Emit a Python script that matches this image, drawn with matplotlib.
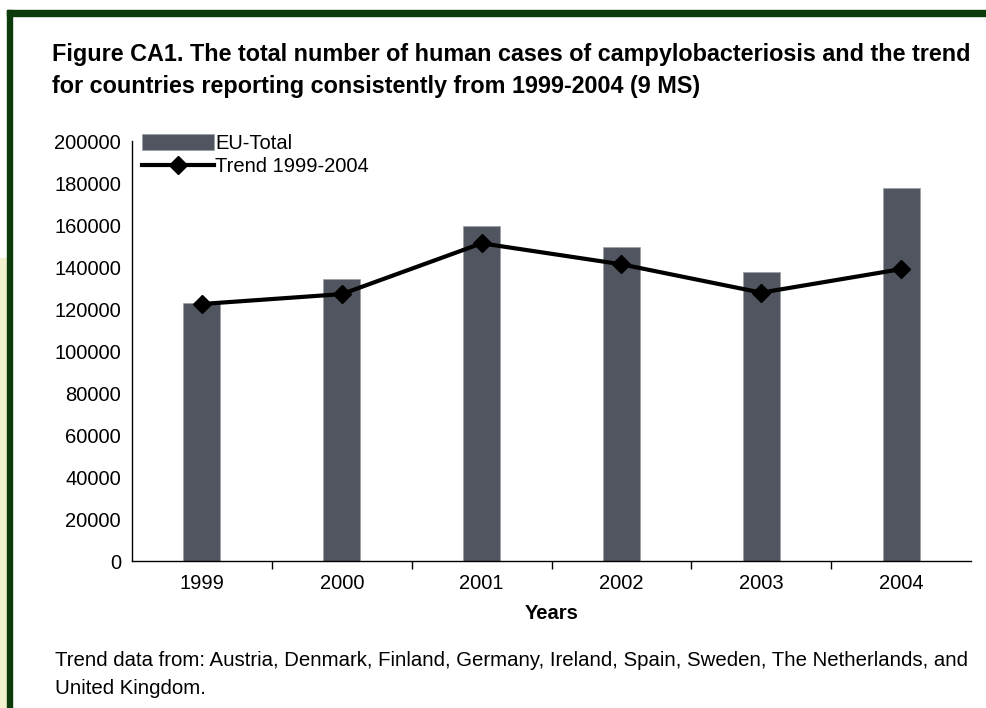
import numpy as np
import matplotlib.pyplot as plt
from matplotlib.patches import Rectangle

plt.rcParams['font.family'] = ['Liberation Sans', 'DejaVu Sans']

years = ['1999', '2000', '2001', '2002', '2003', '2004']
eu_total = [123000, 134100, 159500, 149700, 137800, 177500]
trend = [122400, 127100, 151300, 141300, 127800, 139000]
y_ticks = [0, 20000, 40000, 60000, 80000, 100000, 120000, 140000, 160000, 180000, 200000]

fig = plt.figure(figsize=(9.86, 7.08), dpi=100)

# frame: pale strip on the left, dark green border lines
fig.patches.append(Rectangle((0, 0), 7 / 986, 450 / 708, transform=fig.transFigure,
                             color='#f4f1cf', zorder=0))
fig.patches.append(Rectangle((7 / 986, 0), 5 / 986, 698 / 708, transform=fig.transFigure,
                             color='#0b3b0b', zorder=1))
fig.patches.append(Rectangle((7 / 986, 692 / 708), 979 / 986, 6 / 708, transform=fig.transFigure,
                             color='#0b3b0b', zorder=1))

ax = fig.add_axes([0.1339, 0.2076, 0.8509, 0.5932])
x = np.arange(len(years))
bars = ax.bar(x, eu_total, width=0.265, color='#50555f', edgecolor='#9a9ea6', linewidth=0.5,
              label='EU-Total', zorder=2)
line, = ax.plot(x, trend, color='black', linewidth=3, marker='D', markersize=9,
                label='Trend 1999-2004', zorder=3)

ax.set_xlim(-0.5, len(years) - 0.5)
ax.set_ylim(0, 200000)
ax.set_yticks(y_ticks)
ax.set_yticklabels([str(v) for v in y_ticks], fontsize=14.5)
ax.tick_params(axis='y', length=0, pad=8)
ax.set_xticks(x)
ax.set_xticklabels(years, fontsize=14.5)
ax.tick_params(axis='x', length=0, pad=9)
ax.set_xticks(x[:-1] + 0.5, minor=True)
ax.tick_params(axis='x', which='minor', length=6, direction='out', width=1)
ax.set_xlabel('Years', fontsize=14.5, fontweight='bold', labelpad=8)

ax.spines['top'].set_visible(False)
ax.spines['right'].set_visible(False)
ax.spines['left'].set_linewidth(1)
ax.spines['bottom'].set_linewidth(1)

ax.legend([bars, line], ['EU-Total', 'Trend 1999-2004'], loc='upper left',
          bbox_to_anchor=(0.002, 1.035), frameon=False, fontsize=14.5,
          handlelength=3.6, handleheight=0.85, handletextpad=0.05, labelspacing=0.2,
          borderaxespad=0)

fig.text(52 / 986, 1 - 55 / 708, 'Figure CA1. The total number of human cases of campylobacteriosis and the trend',
         fontsize=16.8, fontweight='bold', va='center', ha='left')
fig.text(52 / 986, 1 - 87 / 708, 'for countries reporting consistently from 1999-2004 (9 MS)',
         fontsize=16.8, fontweight='bold', va='center', ha='left')
fig.text(55 / 986, 1 - 661 / 708,
         'Trend data from: Austria, Denmark, Finland, Germany, Ireland, Spain, Sweden, The Netherlands, and',
         fontsize=14.7, va='center', ha='left')
fig.text(55 / 986, 1 - 689 / 708, 'United Kingdom.', fontsize=14.7, va='center', ha='left')

fig.savefig('out.png', dpi=100)
